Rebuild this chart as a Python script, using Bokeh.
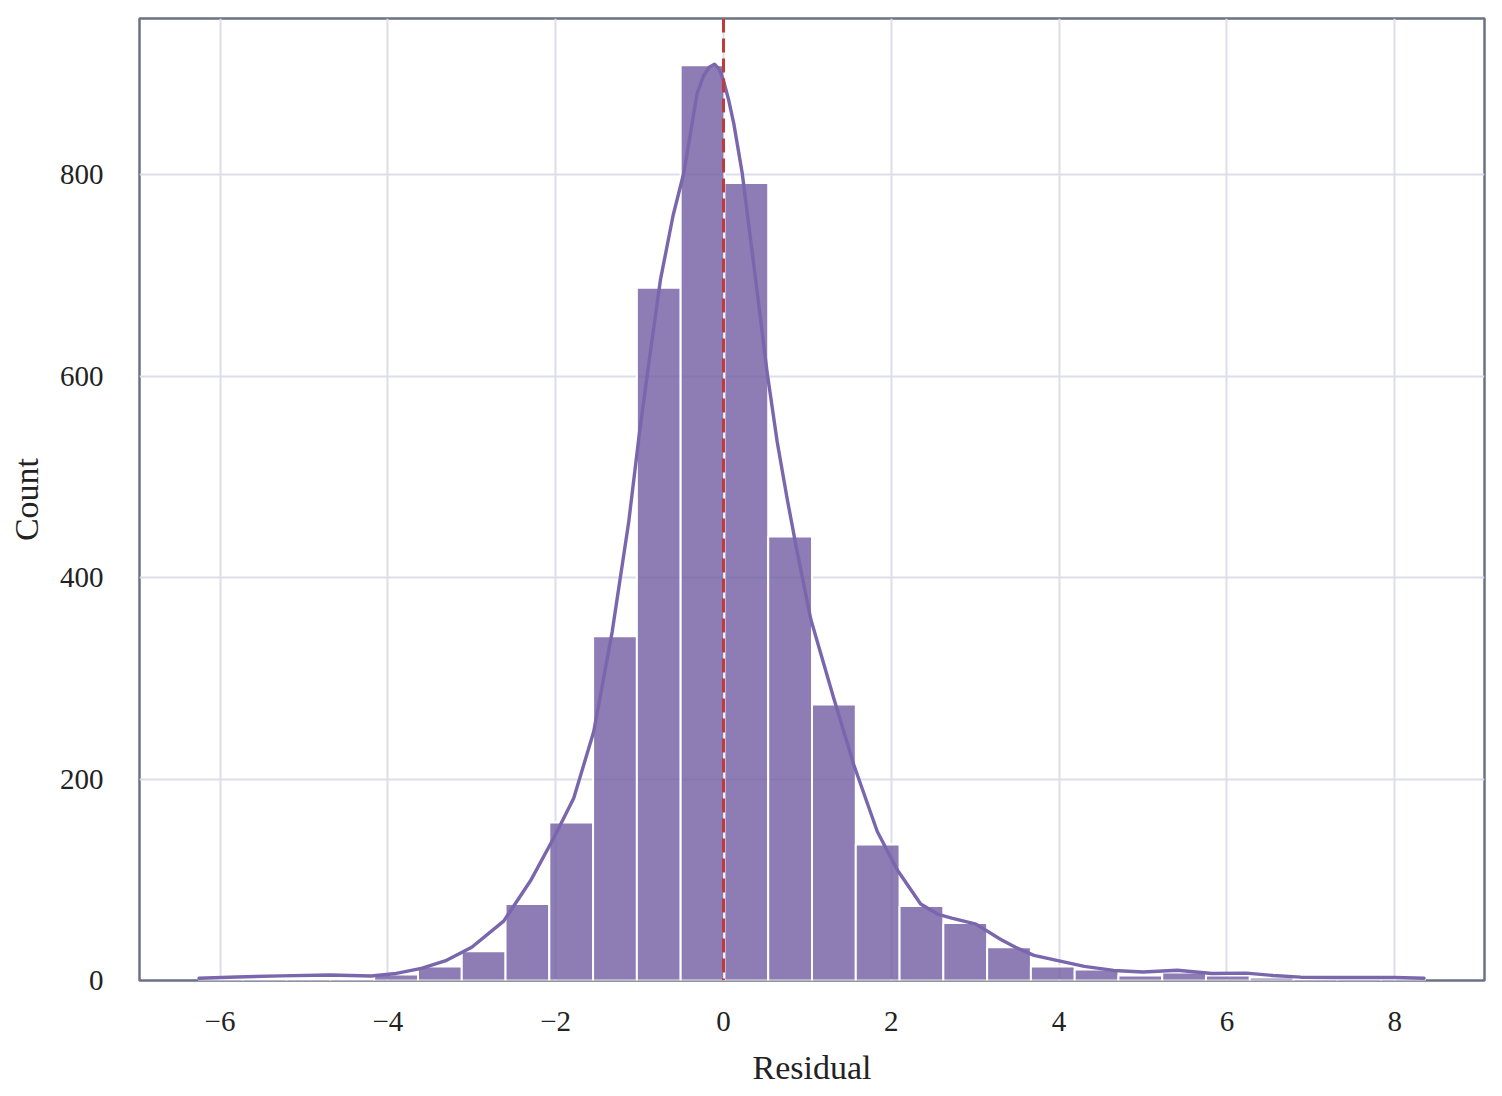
import numpy as np
from bokeh.plotting import figure
from bokeh.models import Range1d, FixedTicker, ColumnDataSource, Span
from bokeh.embed import file_html
from bokeh.resources import INLINE

# ---- data ----
hist_min = -6.25
hist_max = 8.36
counts = [2, 1, 1, 2, 6, 14, 29, 76, 157, 342, 688, 909, 792, 441,
          274, 135, 74, 57, 33, 14, 11, 5, 8, 5, 3, 1, 2, 2]

kde_x = [-6.25, -5.8, -5.28, -4.69, -4.2, -3.9, -3.6, -3.3, -3.0, -2.62,
         -2.30, -2.02, -1.785, -1.547, -1.327, -1.13, -1.0, -0.87, -0.751,
         -0.60, -0.473, -0.38, -0.314, -0.24, -0.17, -0.107, -0.05, 0.0,
         0.06, 0.123, 0.223, 0.37, 0.52, 0.64, 0.76, 0.88, 1.04,
         1.315, 1.554, 1.833, 2.07, 2.35, 2.55, 2.72, 3.01, 3.30, 3.48, 3.70,
         4.0, 4.3, 4.65, 5.0, 5.41, 5.82, 6.23, 6.55, 6.88, 7.3, 7.68, 8.0, 8.35]
kde_y = [2.3, 3.5, 4.6, 5.5, 4.5, 7, 12, 20, 33, 59,
         99, 142, 181, 247, 346, 455, 545, 625, 696,
         760, 802, 848, 881, 898, 907, 910, 905, 894,
         875, 851, 802, 705, 604, 535, 478, 425, 359,
         280, 214, 148, 110, 76, 66, 62, 56, 41, 33, 25,
         19.5, 14, 10, 8.5, 10.2, 7, 7.3, 5, 3.3, 3, 3, 3, 2.3]

x_ticks = [-6, -4, -2, 0, 2, 4, 6, 8]
y_ticks = [0, 200, 400, 600, 800]
x_label = "Residual"
y_label = "Count"

# ---- build ----
edges = np.linspace(hist_min, hist_max, len(counts) + 1)
src = ColumnDataSource(dict(left=edges[:-1], right=edges[1:],
                            top=counts, bottom=[0] * len(counts)))

FONT = "Liberation Serif"

p = figure(width=1494, height=1088, output_backend="svg", toolbar_location=None,
           x_range=Range1d(-6.96, 9.07), y_range=Range1d(0, 955.4))
p.min_border_left = 139
p.min_border_right = 10
p.min_border_top = 18
p.min_border_bottom = 105

p.quad(left="left", right="right", top="top", bottom="bottom", source=src,
       fill_color="#705CA1", fill_alpha=0.8, line_color="white", line_width=2)

p.line(kde_x, kde_y, line_color="#7A66AD", line_width=3.4,
       line_join="round", line_cap="round")

p.add_layout(Span(location=0, dimension="height", line_color="#C03A3C",
                  line_width=3, line_dash="14 6"))

p.xaxis.ticker = FixedTicker(ticks=x_ticks)
p.yaxis.ticker = FixedTicker(ticks=y_ticks)
p.xaxis.axis_label = x_label
p.yaxis.axis_label = y_label

for ax in (p.xaxis[0], p.yaxis[0]):
    ax.axis_line_color = None
    ax.major_tick_line_color = None
    ax.minor_tick_line_color = None
    ax.major_label_text_font = FONT
    ax.major_label_text_font_size = "29px"
    ax.major_label_text_color = "#222222"
    ax.axis_label_text_font = FONT
    ax.axis_label_text_font_size = "34px"
    ax.axis_label_text_font_style = "normal"
    ax.axis_label_text_color = "#222222"

p.xaxis.major_label_standoff = 25
p.xaxis.axis_label_standoff = 15
p.yaxis.major_label_standoff = 30
p.yaxis.axis_label_standoff = 12

for g in (p.xgrid[0], p.ygrid[0]):
    g.grid_line_color = "#DCDFEA"
    g.grid_line_width = 2

p.outline_line_color = "#6B7282"
p.outline_line_width = 2.5
p.background_fill_color = "white"
p.border_fill_color = "white"

open("out.html", "w").write(file_html(p, INLINE))
